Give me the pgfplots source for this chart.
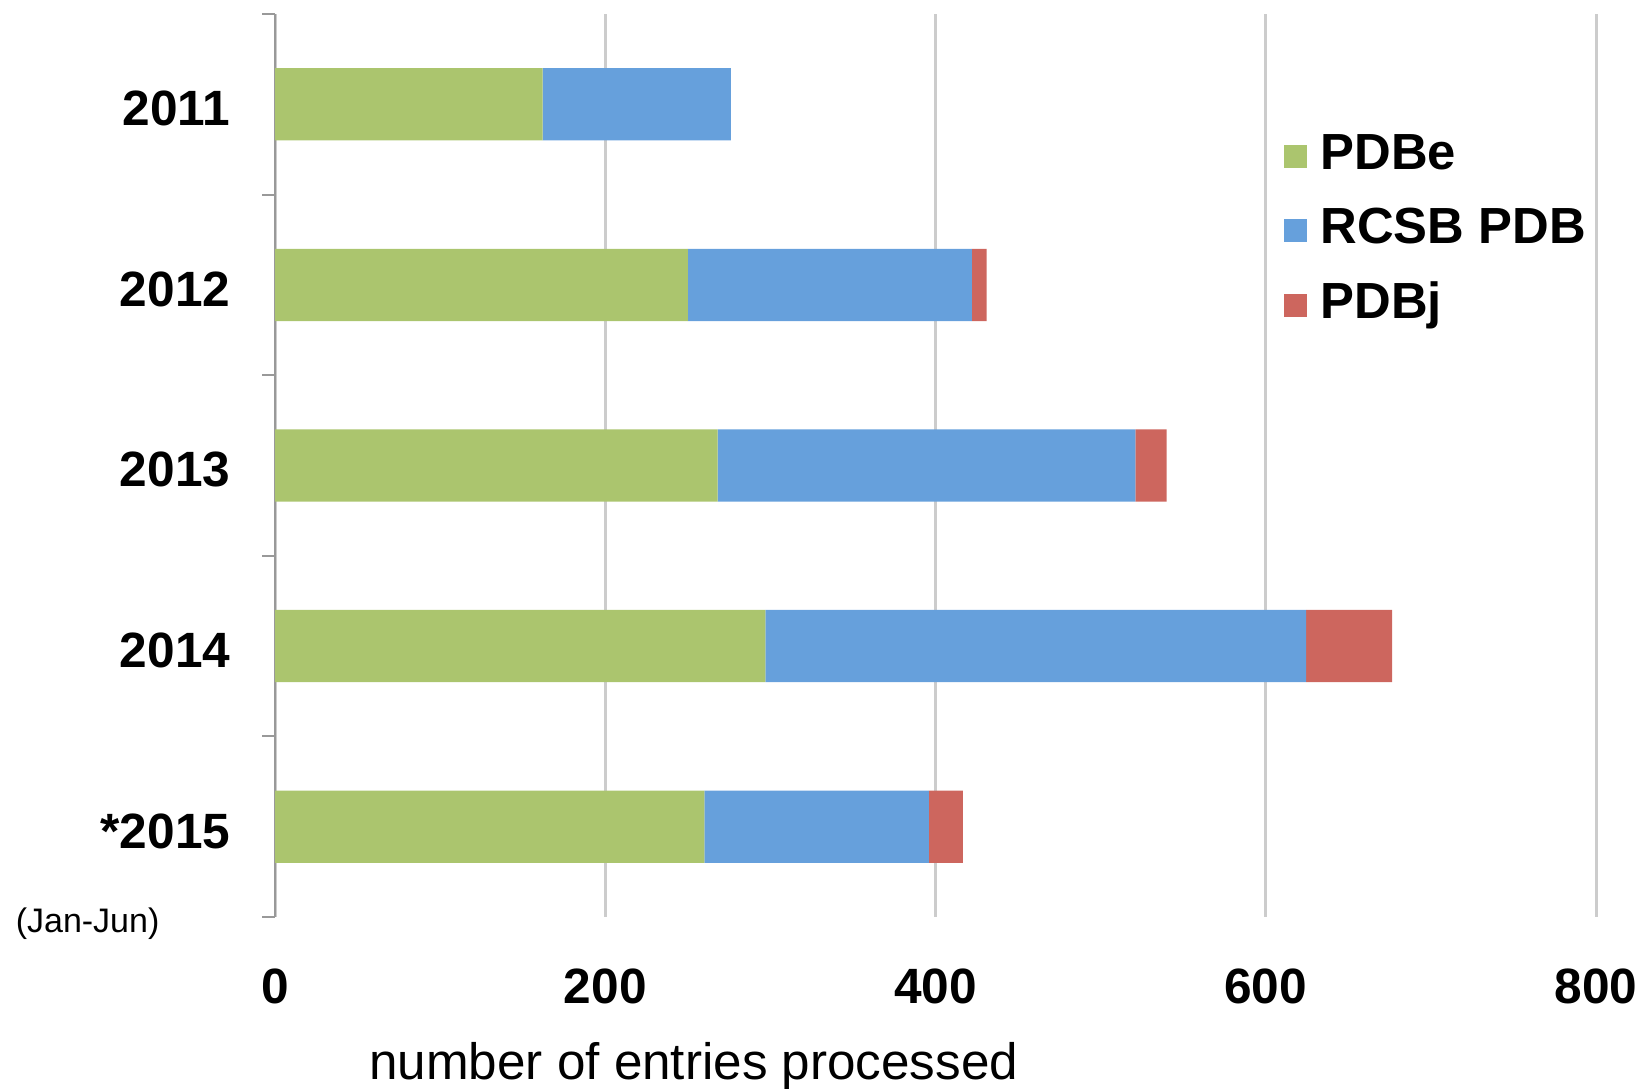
\documentclass[border=0pt]{standalone}
\usepackage{pgfplots}
\pgfplotsset{compat=1.18}
\usepackage{fontspec}
\setmainfont{Liberation Sans}
\definecolor{pgreen}{RGB}{171,197,110}
\definecolor{pblue}{RGB}{102,160,220}
\definecolor{pred}{RGB}{205,102,94}
\begin{document}
\begin{tikzpicture}
\begin{axis}[
  scale only axis, width=330.25pt, height=225.75pt,
  xbar stacked, bar width=0.4,
  xmin=0, xmax=800, ymin=-0.5, ymax=4.5, y dir=reverse,
  enlarge y limits=false, enlarge x limits=false,
  axis y line*=left, axis x line*=bottom,
  x axis line style={draw=none},
  y axis line style={draw=black!40, line width=0.5pt, -},
  xtick={0,200,400,600,800},
  ytick={0,1,2,3,4},
  yticklabels={2011,2012,2013,2014,*2015},
  minor ytick={-0.5,0.5,1.5,2.5,3.5,4.5},
  tick align=outside, major tick length=0pt, minor tick length=3.2pt,
  xtick style={draw=none},
  minor y tick style={draw=black!40, line width=0.5pt},
  xmajorgrids, major x grid style={draw=black!20, line width=0.75pt},
  /pgf/number format/assume math mode=true,
  tick label style={font=\bfseries\fontsize{12.4}{14}\selectfont, inner sep=0pt},
  xticklabel style={yshift=-12.75pt},
  yticklabel style={xshift=-11pt, yshift=-1.1pt},
  xlabel={number of entries processed},
  xlabel style={at={(axis description cs:0.317,0)}, anchor=base, yshift=-40.5pt, inner sep=0pt, font=\fontsize{12.8}{15}\selectfont},
  legend cell align=left,
  legend image code/.code={\fill[#1] (0pt,-2.85pt) rectangle (5.7pt,2.85pt);},
  legend style={draw=none, fill=none, inner sep=0pt, at={(axis description cs:0.763,0.76)}, anchor=west,
    font=\bfseries\fontsize{12.7}{15}\selectfont,
    nodes={inner sep=0pt, text height=9.2pt, text depth=2.6pt},
    row sep=6.8pt,
    /tikz/every odd column/.append style={column sep=3.5pt}},
]
\addplot[fill=pgreen, draw=none] coordinates {(162,0) (250,1) (268,2) (297,3) (260,4)};
\addplot[fill=pblue, draw=none] coordinates {(114,0) (172,1) (253,2) (327.5,3) (136,4)};
\addplot[fill=pred, draw=none] coordinates {(0,0) (9,1) (19,2) (52,3) (20.5,4)};
\legend{PDBe,RCSB PDB,PDBj}
\end{axis}
\node[anchor=base west, font=\fontsize{8.5}{10}\selectfont, inner sep=0pt] at ([xshift=-65pt,yshift=-4pt]current axis.south west) {(Jan-Jun)};
\pgfresetboundingbox
\path[use as bounding box] ([xshift=-68.75pt,yshift=-43pt]current axis.south west) rectangle ([xshift=12.5pt,yshift=3.5pt]current axis.north east);
\end{tikzpicture}
\end{document}
